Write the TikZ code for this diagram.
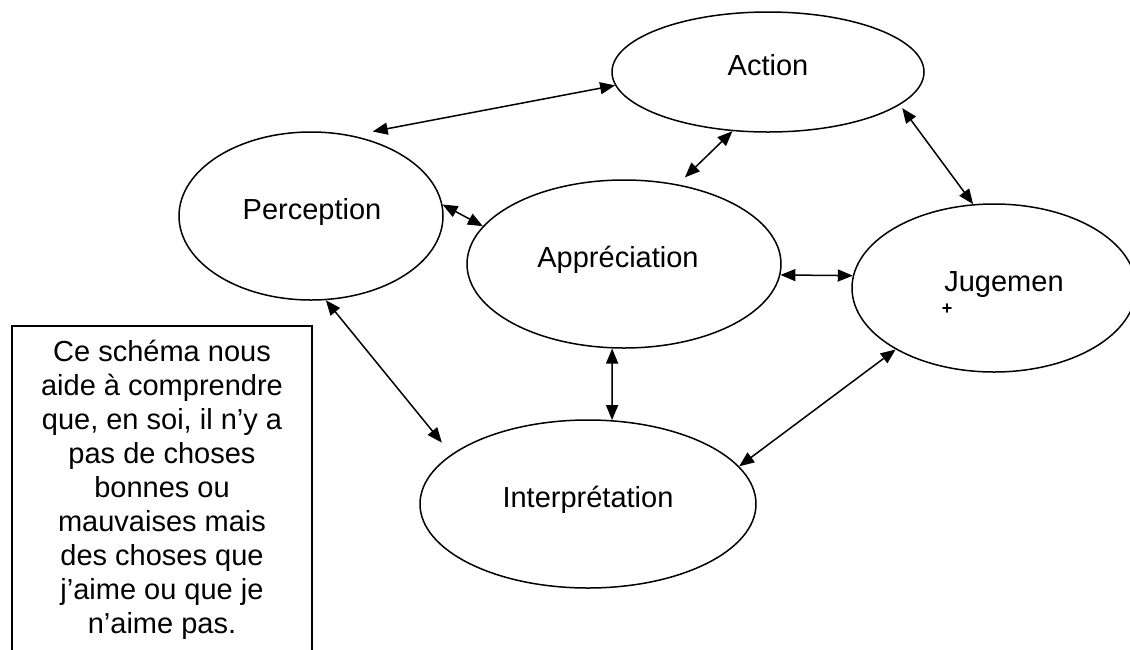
\documentclass[tikz,border=0pt]{standalone}
\usepackage{fontspec}
\setmainfont{Liberation Sans}
\usetikzlibrary{shapes.geometric,arrows.meta}
\begin{document}
\begin{tikzpicture}[x=1pt,y=-1pt,
  ell/.style={draw, ellipse, line width=1.5pt, inner sep=0pt},
  lbl/.style={anchor=base, inner sep=0pt, font=\fontsize{29}{34}\selectfont},
  link/.style={line width=1.5pt,
    {Triangle[length=15pt,width=12pt]}-{Triangle[length=15pt,width=12pt]}},
]
\useasboundingbox (0,0) rectangle (1130,649);
\clip (0,0) rectangle (1130,649);

% the five ellipses
\node[ell, minimum width=312pt, minimum height=120pt] (act)  at (768,72)  {};
\node[ell, minimum width=264pt, minimum height=168pt] (perc) at (311,216) {};
\node[ell, minimum width=314pt, minimum height=168pt] (appr) at (624,264) {};
\node[ell, minimum width=336pt, minimum height=168pt] (intp) at (588,504) {};
\node[ell, minimum width=284pt, minimum height=168pt] (jug)  at (994,288) {};

% their labels
\node[lbl] (tact)  at (768,75)  {Action};
\node[lbl] (tperc) at (312,219) {Perception};
\node[lbl] (tappr) at (618,267) {Appréciation};
\node[lbl] (tintp) at (588,507) {Interprétation};
\node[lbl] (tjug)  at (1004,291) {Jugemen};
\node[inner sep=0pt, font=\fontsize{18}{18}\selectfont\bfseries] (tplus) at (947,309) {+};

% two-headed links
\draw[link, shorten >=21pt] (act.185) -- (perc.63);
\draw[link, shorten >=10pt] (act.239) -- (appr.56);
\draw[link, shorten <=4pt]  (act.346) -- (jug.104);
\draw[link] (perc.5) -- (appr.165);
\draw[link] (appr.356) -- (jug.175);
\draw[link, shorten >=15pt] (perc.280) -- (intp.160);
\draw[link] (appr.262) -- (intp.74);
\draw[link] (intp.14) -- (jug.212);

% open-bottom text frame
\coordinate (fbl) at (12,660);
\coordinate (ftl) at (12,326);
\coordinate (ftr) at (312,326);
\coordinate (fbr) at (312,660);
\draw[line width=2pt] (fbl) -- (ftl) -- (ftr) -- (fbr);
\node[anchor=north, align=center, inner sep=0pt,
      font=\fontsize{29}{34}\selectfont] (note) at (162,340)
  {Ce schéma nous\\aide à comprendre\\que, en soi, il n’y a\\pas de choses\\bonnes ou\\mauvaises mais\\des choses que\\j’aime ou que je\\n’aime pas.};
\end{tikzpicture}
\end{document}
